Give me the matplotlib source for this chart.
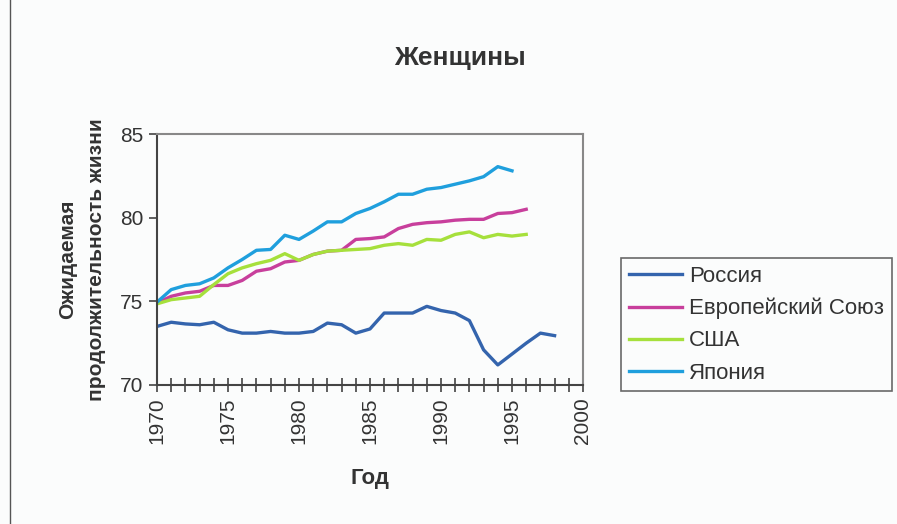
import matplotlib
matplotlib.use("Agg")
import matplotlib.pyplot as plt
from matplotlib.lines import Line2D

plt.rcParams['font.family'] = ['Liberation Sans', 'DejaVu Sans']

years_russia = list(range(1970, 1999))
russia = [73.5, 73.75, 73.65, 73.6, 73.75, 73.3, 73.1, 73.1, 73.2, 73.1,
          73.1, 73.2, 73.7, 73.6, 73.1, 73.35, 74.3, 74.3, 74.3, 74.7,
          74.45, 74.3, 73.85, 72.1, 71.2, 71.85, 72.5, 73.1, 72.95]

years_eu = list(range(1970, 1997))
eu = [74.9, 75.3, 75.5, 75.6, 75.95, 75.95, 76.25, 76.8, 76.95, 77.35,
      77.45, 77.8, 78.0, 78.05, 78.7, 78.75, 78.85, 79.35, 79.6, 79.7,
      79.75, 79.85, 79.9, 79.9, 80.25, 80.3, 80.5]

years_usa = list(range(1970, 1997))
usa = [74.85, 75.1, 75.2, 75.3, 76.0, 76.65, 77.0, 77.25, 77.45, 77.85,
       77.45, 77.8, 78.0, 78.05, 78.1, 78.15, 78.35, 78.45, 78.35, 78.7,
       78.65, 79.0, 79.15, 78.8, 79.0, 78.9, 79.0]

years_japan = list(range(1970, 1996))
japan = [74.95, 75.7, 75.95, 76.05, 76.4, 77.0, 77.5, 78.05, 78.1, 78.95,
         78.7, 79.2, 79.75, 79.75, 80.25, 80.55, 80.95, 81.4, 81.4, 81.7,
         81.8, 82.0, 82.2, 82.45, 83.05, 82.8]

labels = ["Россия", "Европейский Союз", "США", "Япония"]
colors = ["#3464ad", "#c83f9c", "#a6e03c", "#1f9fdd"]

title = "Женщины"
ylabel = "Ожидаемая\nпродолжительность жизни"
xlabel = "Год"
yticks = [70, 75, 80, 85]
xticks = [1970, 1975, 1980, 1985, 1990, 1995, 2000]

bg = "#fbfcfc"
fig = plt.figure(figsize=(8.97, 5.24), dpi=100, facecolor=bg)
ax = fig.add_axes([157/897, 1-385/524, 426/897, 251/524], facecolor=bg)

series = [(years_russia, russia), (years_eu, eu), (years_usa, usa), (years_japan, japan)]
for (x, y), lab, c in zip(series, labels, colors):
    ax.plot(x, y, color=c, lw=2.4, label=lab, solid_joinstyle='round')

ax.set_xlim(1970, 2000)
ax.set_ylim(70, 85)
ax.set_yticks(yticks)
ax.set_xticks(xticks)
ax.set_xticks(range(1970, 2001), minor=True)
ax.tick_params(axis='y', which='major', direction='out', length=6, width=1.2,
               color='#444444', labelsize=15, labelcolor='#333333', pad=4)
ax.tick_params(axis='x', which='both', direction='inout', length=10, width=1.2,
               color='#444444')
ax.tick_params(axis='x', which='major', labelsize=15, labelcolor='#333333',
               labelrotation=90, pad=4)
for s in ['left', 'bottom']:
    ax.spines[s].set_color('#444444')
    ax.spines[s].set_linewidth(1.5)
for s in ['top', 'right']:
    ax.spines[s].set_color('#888888')
    ax.spines[s].set_linewidth(1.5)

ax.set_xlabel(xlabel, fontsize=16, fontweight='bold', color='#333333', labelpad=17)
ax.set_ylabel(ylabel, fontsize=15, fontweight='bold', color='#333333', labelpad=10,
              linespacing=1.65)
fig.text(460/897, 1-58/524, title, fontsize=19, fontweight='bold', color='#333333',
         ha='center', va='center')

leg = ax.legend(loc='upper left', bbox_to_anchor=(621/897, 1-258/524),
                bbox_transform=fig.transFigure, fontsize=16, frameon=True,
                fancybox=False, edgecolor='#444444', facecolor=bg,
                handlelength=2.4, handletextpad=0.3, labelspacing=0.5,
                borderpad=0.35, borderaxespad=0)
for t in leg.get_texts():
    t.set_color('#333333')
leg.get_frame().set_linewidth(1.2)

fig.add_artist(Line2D([10/897, 10/897], [0, 1], transform=fig.transFigure,
                      color='#555555', lw=1.0))

fig.savefig("out.png", dpi=100, facecolor=bg)
